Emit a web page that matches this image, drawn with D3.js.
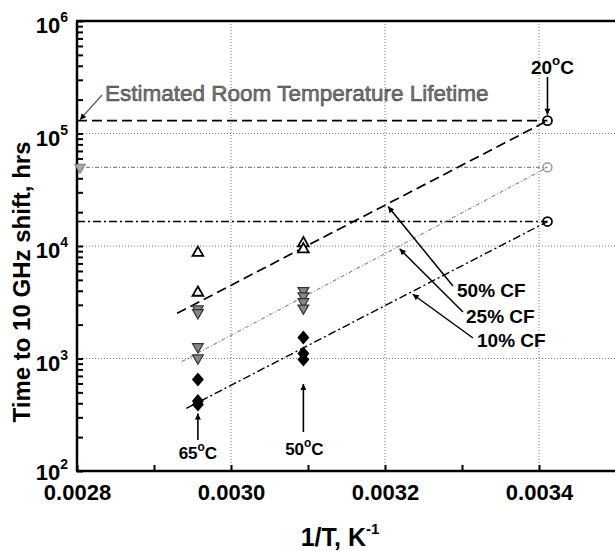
<!DOCTYPE html>
<html>
<head>
<meta charset="utf-8">
<script src="https://cdn.jsdelivr.net/npm/d3@7"></script>
<style>
  body { margin: 0; background: #fff; }
  text { font-family: "Liberation Sans", Arial, sans-serif; }
</style>
</head>
<body>
<div id="chart"></div>
<script>
// 1/T values (K^-1) for the three test temperatures
const tempLabels = ['65', '50', '20'];
const invT = [0.002957, 0.003094, 0.003411];

// 50% CF, open triangles
const cf50Vals = [[8700, 3850], [10600, 9350]];
// 25% CF, grey down triangles
const cf25Vals = [[2750, 2550, 1270, 1010], [4000, 3600, 3200, 2800]];
// 10% CF, filled diamonds
const cf10Vals = [[650, 420, 390], [1540, 1110, 980]];
// extrapolated room temperature lifetimes (20 C), 50% / 25% / 10%
const roomVals = [130000, 50000, 16500];

// fitted lines, [1/T, hrs] end points
const fit50 = [[0.00293, 2520], [0.003411, 130000]];
const fit25 = [[0.002936, 940], [0.003411, 50000]];
const fit10 = [[0.002942, 360], [0.003411, 16500]];

const xTicks = [0.0028, 0.0029, 0.0030, 0.0031, 0.0032, 0.0033, 0.0034, 0.0035];
const xLabels = ['0.0028', '', '0.0030', '', '0.0032', '', '0.0034', ''];
const yDecades = [2, 3, 4, 5, 6];

const W = 615, H = 551;
const margin = { top: 21, left: 77, bottom: 80 };
const plotH = H - margin.top - margin.bottom; // 450

const svg = d3.select('#chart').append('svg')
  .attr('width', W).attr('height', H);

// arrow head
svg.append('defs').append('marker')
  .attr('id', 'arr')
  .attr('viewBox', '0 0 10 10')
  .attr('refX', 10).attr('refY', 5)
  .attr('markerWidth', 10).attr('markerHeight', 6)
  .attr('markerUnits', 'userSpaceOnUse')
  .attr('orient', 'auto')
  .append('path').attr('d', 'M0,0L10,5L0,10Z').attr('fill', '#000');

const x = d3.scaleLinear().domain([0.0028, 0.0035]).range([margin.left, 616]);
const y = d3.scaleLog().domain([100, 1e6]).range([margin.top + plotH, margin.top]);

// grid
const grid = svg.append('g').attr('stroke', '#777').attr('stroke-width', 1)
  .attr('stroke-dasharray', '1,2');
[0.0030, 0.0032, 0.0034].forEach(v => {
  grid.append('line').attr('x1', x(v)).attr('x2', x(v))
    .attr('y1', y(1e6)).attr('y2', y(100));
});
[1e3, 1e4, 1e5].forEach(v => {
  grid.append('line').attr('x1', x(0.0028)).attr('x2', W)
    .attr('y1', y(v)).attr('y2', y(v));
});

// x axis, ticks pointing inward
const xAxis = svg.append('g')
  .attr('transform', `translate(0,${y(100)})`)
  .call(d3.axisBottom(x).tickValues(xTicks)
    .tickSize(-6).tickPadding(13)
    .tickFormat((d, i) => xLabels[i]));
xAxis.select('.domain').remove();
xAxis.selectAll('line').attr('stroke-width', 2);
xAxis.selectAll('text').attr('font-size', 22).attr('font-weight', 'bold')
  .attr('fill', '#000');

// y axis minor + major ticks
const yTickVals = [];
yDecades.slice(0, -1).forEach(e => {
  for (let k = 1; k < 10; k++) yTickVals.push(k * Math.pow(10, e));
});
yTickVals.push(1e6);
const yAxis = svg.append('g')
  .attr('transform', `translate(${x(0.0028)},0)`)
  .call(d3.axisLeft(y).tickValues(yTickVals).tickSize(-6).tickFormat(''));
yAxis.select('.domain').remove();
yAxis.selectAll('line').attr('stroke-width', 2);

// y tick labels 10^n (bottom one nudged up to clear 0.0028)
yDecades.forEach(e => {
  const t = svg.append('text')
    .attr('x', 68).attr('y', y(Math.pow(10, e)) + (e === 2 ? 9 : 12))
    .attr('text-anchor', 'end')
    .attr('font-weight', 'bold').attr('font-size', 22);
  t.append('tspan').text('10');
  t.append('tspan').attr('font-size', 14).attr('dy', -11).text(e);
});

// frame lines (left, bottom, top)
const frame = svg.append('g').attr('stroke', '#000').attr('stroke-width', 2.5);
frame.append('line').attr('x1', x(0.0028)).attr('x2', x(0.0028))
  .attr('y1', y(1e6)).attr('y2', y(100));
frame.append('line').attr('x1', x(0.0028) - 1).attr('x2', W)
  .attr('y1', y(100)).attr('y2', y(100));
frame.append('line').attr('x1', x(0.0028) - 1).attr('x2', W)
  .attr('y1', y(1e6)).attr('y2', y(1e6));

// axis titles
svg.append('text')
  .attr('transform', 'translate(30,282) rotate(-90)')
  .attr('text-anchor', 'middle')
  .attr('font-weight', 'bold').attr('font-size', 24)
  .text('Time to 10 GHz shift, hrs');

const xt = svg.append('text')
  .attr('x', 340).attr('y', 546)
  .attr('text-anchor', 'middle')
  .attr('font-weight', 'bold').attr('font-size', 25);
xt.append('tspan').text('1/T, K');
xt.append('tspan').attr('font-size', 15).attr('dy', -12).text('-1');

// line styles
const styles = [
  { stroke: '#000', width: 1.7, dash: '10,5' },
  { stroke: '#888', width: 1.1, dash: '4,2,1,2' },
  { stroke: '#000', width: 1.4, dash: '8,3,2,3' }
];

const line = d3.line().x(d => x(d[0])).y(d => y(d[1]));

// horizontal room temperature lifetime lines
roomVals.forEach((v, i) => {
  svg.append('path')
    .datum([[0.0028, v], [invT[2], v]])
    .attr('d', line)
    .attr('fill', 'none')
    .attr('stroke', styles[i].stroke)
    .attr('stroke-width', styles[i].width)
    .attr('stroke-dasharray', styles[i].dash);
});

// fitted lines
[fit50, fit25, fit10].forEach((f, i) => {
  svg.append('path')
    .datum(f)
    .attr('d', line)
    .attr('fill', 'none')
    .attr('stroke', styles[i].stroke)
    .attr('stroke-width', styles[i].width)
    .attr('stroke-dasharray', styles[i].dash);
});

// symbols
const triUp = d3.symbol().type(d3.symbolTriangle).size(50);
const diamond = 'M0,-7L6,0L0,7L-6,0Z';

cf50Vals.forEach((vals, i) => {
  svg.selectAll(null).data(vals).enter().append('path')
    .attr('d', triUp)
    .attr('transform', d => `translate(${x(invT[i])},${y(d)})`)
    .attr('fill', '#fff').attr('stroke', '#000').attr('stroke-width', 1.8);
});

cf25Vals.forEach((vals, i) => {
  svg.selectAll(null).data(vals).enter().append('path')
    .attr('d', triUp)
    .attr('transform', d => `translate(${x(invT[i])},${y(d)}) rotate(180)`)
    .attr('fill', '#888').attr('stroke', '#333').attr('stroke-width', 1.2);
});

cf10Vals.forEach((vals, i) => {
  svg.selectAll(null).data(vals).enter().append('path')
    .attr('d', diamond)
    .attr('transform', d => `translate(${x(invT[i])},${y(d)})`)
    .attr('fill', '#000');
});

// small grey marker at the axis for the 25% lifetime line
svg.append('path')
  .attr('d', triUp)
  .attr('transform', `translate(${x(0.0028) + 3},${y(roomVals[1])}) rotate(180)`)
  .attr('fill', '#aaa').attr('stroke', '#777').attr('stroke-width', 1);

// 20 C open circles
svg.selectAll(null).data(roomVals).enter().append('circle')
  .attr('cx', x(invT[2]))
  .attr('cy', d => y(d))
  .attr('r', 4.5)
  .attr('fill', 'none')
  .attr('stroke', (d, i) => i === 1 ? '#888' : '#000')
  .attr('stroke-width', (d, i) => i === 1 ? 1.2 : 1.8);

// temperature labels with arrows
function degLabel(cx, yy, t, fs) {
  const el = svg.append('text')
    .attr('x', cx).attr('y', yy)
    .attr('text-anchor', 'middle')
    .attr('font-weight', 'bold').attr('font-size', fs);
  el.append('tspan').text(t);
  el.append('tspan').attr('font-size', fs * 0.7).attr('dy', -fs * 0.5).text('o');
  el.append('tspan').attr('dy', fs * 0.5).text('C');
}
function arrow(x1, y1, x2, y2, w) {
  svg.append('line')
    .attr('x1', x1).attr('y1', y1).attr('x2', x2).attr('y2', y2)
    .attr('stroke', '#000').attr('stroke-width', w || 1.6)
    .attr('marker-end', 'url(#arr)');
}

degLabel(x(invT[0]), 459, tempLabels[0], 17);
arrow(x(invT[0]), 440, x(invT[0]), y(cf10Vals[0][2]) + 9);
degLabel(x(invT[1]) + 1, 455, tempLabels[1], 17);
arrow(x(invT[1]), 432, x(invT[1]), 384);
degLabel(x(invT[2]) + 5, 74, tempLabels[2], 19);
arrow(x(invT[2]), 77, x(invT[2]), y(roomVals[0]) - 6);

// CF labels
const cfLabels = ['50% CF', '25% CF', '10% CF'];
const cfText = [[457, 297], [466, 323], [477, 347]];
const cfTail = [[453, 286], [463, 312], [473, 338]];
const cfTip = [0.003204, 0.003219, 0.003236];
[fit50, fit25, fit10].forEach((f, i) => {
  const lv = Math.log10(f[0][1]) + (cfTip[i] - f[0][0]) *
    (Math.log10(f[1][1]) - Math.log10(f[0][1])) / (f[1][0] - f[0][0]);
  arrow(cfTail[i][0], cfTail[i][1], x(cfTip[i]), y(Math.pow(10, lv)) + 3, 1.5);
  svg.append('text')
    .attr('x', cfText[i][0]).attr('y', cfText[i][1])
    .attr('font-weight', 'bold').attr('font-size', 19)
    .text(cfLabels[i]);
});

// room temperature lifetime note
svg.append('text')
  .attr('x', 105).attr('y', 101)
  .attr('font-size', 22.5)
  .attr('fill', '#777').attr('stroke', '#333').attr('stroke-width', 0.5)
  .text('Estimated Room Temperature Lifetime');
svg.append('line')
  .attr('x1', 102).attr('y1', 95)
  .attr('x2', x(0.0028) + 3).attr('y2', y(roomVals[0]) - 1)
  .attr('stroke', '#555').attr('stroke-width', 1.2)
  .attr('marker-end', 'url(#arr)');
</script>
</body>
</html>
